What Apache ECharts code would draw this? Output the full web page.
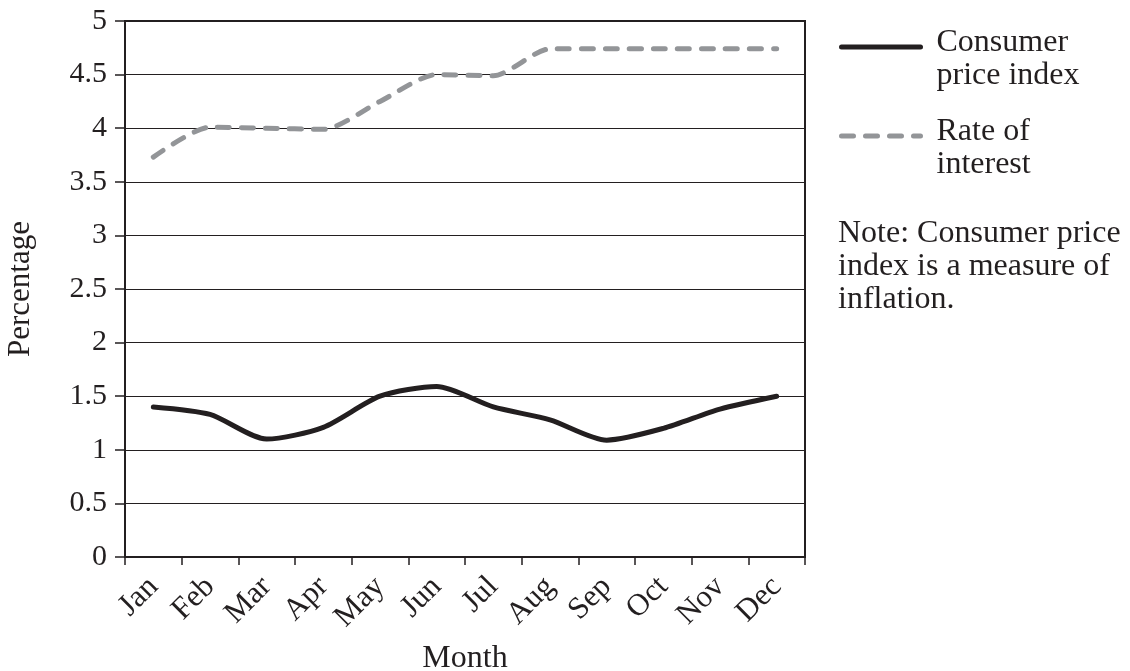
<!DOCTYPE html>
<html>
<head>
<meta charset="utf-8">
<script src="https://cdn.jsdelivr.net/npm/echarts@6/dist/echarts.min.js"></script>
<style>
	html, body { margin: 0; padding: 0; background: #fff; }
	#chart { width: 1130px; height: 671px; }
</style>
</head>
<body>
<div id="chart"></div>
<script>
var months = ['Jan', 'Feb', 'Mar', 'Apr', 'May', 'Jun', 'Jul', 'Aug', 'Sep', 'Oct', 'Nov', 'Dec'];
var cpiValues = [1.40, 1.33, 1.10, 1.21, 1.50, 1.59, 1.40, 1.28, 1.09, 1.20, 1.38, 1.50];
var rateValues = [3.73, 4.01, 4.00, 3.99, 4.25, 4.50, 4.49, 4.74, 4.74, 4.74, 4.74, 4.74];
var yTicks = [0, 0.5, 1, 1.5, 2, 2.5, 3, 3.5, 4, 4.5, 5];
var legendNames = {
	'Consumer price index': ['Consumer', 'price index'],
	'Rate of interest': ['Rate of', 'interest']
};
var noteText = 'Note: Consumer price\nindex is a measure of\ninflation.';

var ink = '#231f20';
var serif = '"Liberation Serif", "DejaVu Serif", serif';

var chart = echarts.init(document.getElementById('chart'));
chart.setOption({
	animation: false,
	backgroundColor: '#fff',
	textStyle: { fontFamily: serif, color: ink },
	grid: {
		left: 125, right: 325, top: 21, bottom: 114,
		outerBoundsMode: 'none',
		containLabel: false,
		show: true, borderColor: ink, borderWidth: 2
	},
	legend: {
		orient: 'vertical',
		left: 839, top: 9, padding: 0,
		itemWidth: 79, itemHeight: 14, itemGap: 6,
		selectedMode: false,
		itemStyle: { opacity: 0 },
		lineStyle: { width: 5 },
		formatter: function(name){
			var lines = legendNames[name] || [name];
			// spacer line pushes the first text line level with the icon
			return '{s| }\n' + lines.map(function(l){ return '{a|' + l + '}'; }).join('\n');
		},
		textStyle: {
			fontFamily: serif, fontSize: 32, color: ink,
			padding: [0, 0, 0, 11],
			rich: {
				s: { fontSize: 10, lineHeight: 25 },
				a: { fontFamily: serif, fontSize: 32, color: ink, lineHeight: 33 }
			}
		},
		data: ['Consumer price index', 'Rate of interest']
	},
	graphic: [{
		type: 'text',
		left: 838, top: 217,
		style: {
			text: noteText,
			font: '32px ' + serif,
			fill: ink,
			lineHeight: 33
		}
	}],
	xAxis: {
		type: 'category',
		data: months,
		boundaryGap: true,
		name: 'Month',
		nameLocation: 'middle',
		nameGap: 86,
		nameMoveOverlap: false,
		nameTextStyle: { fontFamily: serif, fontSize: 32, color: ink },
		axisLine: { lineStyle: { color: ink, width: 2 } },
		axisTick: { show: true, interval: 0, length: 8, lineStyle: { color: ink, width: 1.5 } },
		axisLabel: { interval: 0, hideOverlap: false, rotate: 45, fontSize: 31, color: ink, fontFamily: serif, margin: 25 },
		splitLine: { show: false }
	},
	yAxis: {
		type: 'value',
		min: yTicks[0],
		max: yTicks[yTicks.length - 1],
		interval: 0.5,
		name: 'Percentage',
		nameLocation: 'middle',
		nameGap: 89,
		nameMoveOverlap: false,
		nameTextStyle: { fontFamily: serif, fontSize: 31, color: ink },
		axisLine: { show: true, lineStyle: { color: ink, width: 2 } },
		axisTick: { show: true, length: 10, lineStyle: { color: ink, width: 1.5 } },
		axisLabel: { fontSize: 30, color: ink, fontFamily: serif, margin: 18 },
		splitLine: { show: true, lineStyle: { color: ink, width: 1.2 } }
	},
	series: [{
		name: 'Consumer price index',
		type: 'line',
		data: cpiValues,
		symbol: 'none',
		smooth: 0.25,
		color: ink,
		lineStyle: { color: ink, width: 5, cap: 'round', join: 'round' }
	}, {
		name: 'Rate of interest',
		type: 'line',
		data: rateValues,
		symbol: 'none',
		smooth: 0.25,
		color: '#939598',
		lineStyle: { color: '#939598', width: 5, type: [12, 12], cap: 'round', join: 'round' }
	}]
});
</script>
</body>
</html>
